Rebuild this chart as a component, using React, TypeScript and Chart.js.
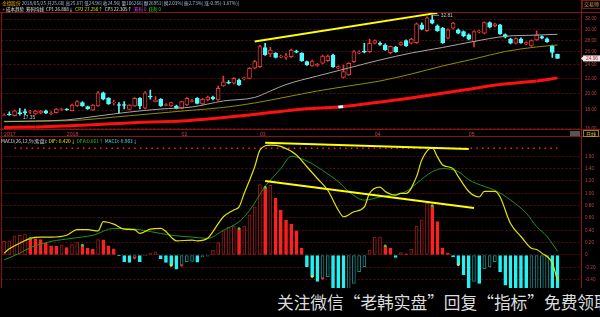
import React, { useEffect, useRef } from 'react';
import { Chart, registerables } from 'chart.js';

Chart.register(...registerables);

// ---------- categories ----------
const tradingDays: [string, number[]][] = [
  ['2017-12', [14, 15, 18, 19, 20, 21, 22, 25, 26, 27, 28, 29]],
  ['2018-01', [2, 3, 4, 5, 8, 9, 10, 11, 12, 15, 16, 17, 18, 19, 22, 23, 24, 25, 26, 29, 30, 31]],
  ['2018-02', [1, 2, 5, 6, 7, 8, 9, 12, 13, 14, 22, 23, 26, 27, 28]],
  ['2018-03', [1, 2, 5, 6, 7, 8, 9, 12, 13, 14, 15, 16, 19, 20, 21, 22, 23, 26, 27, 28, 29, 30]],
  ['2018-04', [2, 3, 4, 9, 10, 11, 12, 13, 16, 17, 18, 19, 20, 23, 24, 25, 26, 27]],
  ['2018-05', [2, 3, 4, 7, 8, 9, 10, 11, 14, 15, 16, 17, 18, 21, 22, 23, 24, 25]],
];
const monthTickText = ['2017', '2018', '02', '03', '04', '05'];
const blankSlots = 4;

// ---------- price (OHLC) ----------
const open = [
  17.40, 17.55, 17.38, 17.72, 17.84, 17.78, 17.56, 17.67, 17.93, 17.61,
  17.70, 18.09, 18.12, 17.93, 18.47, 18.87, 18.39, 18.01, 18.47, 20.09,
  19.39, 18.87, 18.65, 18.65, 18.09, 18.47, 19.39, 18.21, 19.68, 18.99,
  19.28, 18.53, 18.47, 18.47, 18.20, 18.59, 19.01, 19.39, 18.71, 19.19,
  19.55, 19.19, 20.97, 21.47, 21.33, 21.78, 21.94, 22.01, 23.46, 23.70,
  26.72, 25.67, 25.78, 25.16, 25.16, 25.24, 26.13, 25.78, 24.46, 23.80,
  23.87, 24.21, 24.61, 25.51, 23.46, 22.15, 22.47, 24.46, 25.80, 26.13,
  26.05, 27.48, 27.45, 27.18, 25.89, 26.78, 27.18, 27.94, 27.48, 27.59,
  30.86, 29.77, 31.86, 30.67, 30.22, 28.36, 30.22, 29.90, 29.58, 28.97,
  27.76, 29.48, 29.28, 31.32, 30.67, 30.86, 29.02, 28.19, 27.48, 28.19,
  27.31, 27.01, 28.06, 28.66, 28.24, 27.01, 25.60,
];
const high = [
  17.58, 17.80, 18.01, 18.18, 18.12, 17.96, 17.96, 17.96, 18.01, 17.84,
  18.18, 18.24, 18.18, 18.71, 19.13, 19.01, 18.47, 18.65, 20.25, 20.18,
  19.49, 19.19, 18.89, 19.01, 18.65, 19.49, 19.49, 20.25, 20.44, 19.62,
  19.37, 18.77, 18.95, 18.59, 19.07, 19.49, 19.25, 19.49, 19.37, 19.68,
  19.68, 20.97, 22.33, 21.71, 22.12, 21.92, 22.19, 23.57, 24.65, 27.10,
  27.48, 26.78, 25.92, 25.51, 25.78, 26.50, 26.33, 25.92, 24.56, 24.72,
  24.18, 25.51, 25.51, 25.67, 23.80, 23.95, 24.33, 26.25, 26.17, 27.48,
  28.19, 28.06, 27.71, 27.36, 27.01, 26.93, 27.71, 28.06, 28.33, 31.26,
  31.26, 32.47, 32.81, 30.86, 30.38, 30.09, 31.36, 30.09, 29.71, 29.15,
  29.71, 29.81, 31.46, 31.46, 31.16, 30.96, 29.15, 28.33, 28.42, 28.42,
  27.71, 28.06, 29.71, 28.78, 28.42, 27.18, 25.67,
];
const low = [
  17.38, 17.40, 17.35, 17.42, 17.45, 17.61, 17.50, 17.61, 17.61, 17.45,
  17.67, 17.96, 17.96, 17.90, 18.42, 18.42, 18.07, 17.96, 18.42, 19.19,
  18.65, 18.59, 17.67, 18.12, 18.01, 18.42, 18.12, 18.12, 19.28, 18.95,
  18.42, 18.47, 18.42, 18.12, 18.12, 18.53, 18.95, 18.73, 18.65, 19.07,
  19.19, 19.13, 20.90, 21.23, 21.23, 21.04, 21.78, 21.92, 23.35, 23.57,
  25.43, 25.24, 25.03, 25.03, 24.82, 25.14, 25.83, 24.49, 23.87, 23.72,
  23.72, 24.10, 24.49, 23.57, 23.35, 22.05, 22.40, 24.33, 25.67, 25.83,
  25.92, 27.36, 27.10, 26.25, 25.67, 25.92, 27.10, 26.93, 27.36, 27.45,
  29.90, 29.62, 31.06, 29.62, 27.45, 28.24, 30.09, 29.15, 28.60, 28.06,
  26.84, 29.33, 29.15, 30.28, 30.48, 29.06, 28.42, 27.36, 27.36, 27.45,
  27.18, 26.93, 27.97, 28.24, 27.62, 25.14, 24.96,
];
const close = [
  17.48, 17.46, 17.93, 17.61, 17.72, 17.84, 17.90, 17.90, 17.64, 17.67,
  18.12, 18.15, 18.01, 18.59, 18.99, 18.47, 18.12, 18.59, 20.09, 19.28,
  18.71, 18.95, 18.53, 18.53, 18.59, 19.39, 18.47, 20.09, 19.55, 19.19,
  18.47, 18.65, 18.87, 18.20, 18.99, 19.39, 19.13, 18.79, 19.28, 19.55,
  19.31, 20.66, 21.54, 21.34, 22.01, 21.10, 22.08, 23.46, 24.46, 26.89,
  25.51, 26.33, 25.14, 25.32, 25.32, 26.33, 25.97, 24.61, 23.95, 24.56,
  24.03, 25.35, 25.35, 23.70, 23.70, 22.95, 24.21, 26.05, 25.97, 25.97,
  27.48, 27.94, 27.27, 26.33, 26.96, 26.05, 27.59, 27.01, 28.19, 31.06,
  30.03, 32.27, 31.20, 29.77, 27.59, 29.90, 31.20, 29.28, 28.78, 28.19,
  29.58, 29.67, 31.32, 30.42, 31.06, 29.15, 28.54, 27.48, 28.30, 27.59,
  27.59, 27.94, 28.97, 28.36, 27.76, 25.91, 24.96,
];

// moving-average lines read at sample bars: [bar index, value]
const maGray: [number, number][] = [
  [0, 16.72], [6, 16.79], [12, 16.91], [18, 17.34], [24, 17.78], [30, 18.12], [36, 18.36],
  [42, 19.07], [48, 19.5], [51, 20.31], [54, 21.16], [57, 21.78], [60, 22.33], [66, 23.5],
  [72, 24.72], [78, 25.83], [84, 26.75], [90, 27.8], [96, 28.71], [102, 28.93], [106, 29.08],
];
const maOlive: [number, number][] = [
  [0, 16.77], [12, 16.83], [24, 17.37], [36, 17.99], [42, 18.3], [48, 18.83], [54, 19.55],
  [60, 20.31], [66, 20.97], [72, 21.64], [78, 22.62], [84, 23.8], [90, 24.88], [96, 26.08],
  [102, 26.84], [106, 27.18],
];
const maRed: [number, number][] = [
  [0, 16.12], [6, 16.18], [9, 16.22], [18, 16.43], [28, 16.69], [32, 16.74], [34, 16.79],
  [47, 17.45], [56, 18.05], [64, 18.36], [65, 18.41], [75, 19.19], [88, 20.44], [95, 21.17],
  [101, 21.57], [102, 21.63], [106, 22.07],
];
const maRedWhiteFrom = [6, 32, 64, 95, 102];
const priceTrend: [number, number][] = [[48, 27.77], [83, 33.3]];
const priceTicks = [16, 18, 20, 22, 24, 26, 28, 30, 32];

// ---------- MACD ----------
const macdHist = [
  0.22, 0.23, 0.31, 0.32, 0.33, 0.27, 0.265, 0.25, 0.19, 0.15,
  0.145, 0.16, 0.12, 0.17, 0.21, 0.16, 0.11, 0.09, 0.25, 0.245,
  0.15, 0.10, -0.01, -0.11, -0.12, -0.05, -0.11, -0.005, 0.03, 0.05,
  -0.06, -0.12, -0.17, -0.23, -0.17, -0.11, -0.105, -0.115, -0.03, -0.02,
  0.08, 0.20, 0.39, 0.45, 0.47, 0.43, 0.47, 0.65, 0.78, 1.14,
  1.10, 1.13, 0.92, 0.73, 0.56, 0.50, 0.39, 0.11, -0.19, -0.35,
  -0.43, -0.38, -0.35, -0.55, -0.60, -0.62, -0.56, -0.46, -0.27, -0.19,
  0.08, 0.29, 0.295, 0.15, 0.11, -0.04, 0.04, 0.02, 0.09, 0.47,
  0.57, 0.84, 0.80, 0.54, 0.11, 0.03, -0.03, -0.16, -0.32, -0.55,
  -0.43, -0.46, -0.22, -0.19, -0.11, -0.27, -0.49, -0.62, -0.72, -0.80,
  -0.85, -0.83, -0.78, -0.74, -0.72, -0.84, -0.963,
];
const difLine: [number, number][] = [
  [0, 0.03], [1, 0.10], [3, 0.19], [5, 0.27], [7, 0.29], [9, 0.29], [12, 0.32], [14, 0.41],
  [16, 0.41], [18, 0.39], [19, 0.54], [21, 0.50], [23, 0.42], [25, 0.41], [26, 0.35], [28, 0.42],
  [30, 0.43], [31, 0.38], [32, 0.29], [33, 0.23], [36, 0.24], [37, 0.23], [39, 0.27], [40, 0.38],
  [42, 0.62], [44, 0.73], [45, 0.78], [46, 1.0], [48, 1.43], [49, 1.70], [51, 1.78], [53, 1.76],
  [56, 1.62], [58, 1.43], [60, 1.24], [62, 1.05], [64, 0.73], [65, 0.62], [67, 0.70], [69, 0.78],
  [70, 1.0], [72, 1.10], [73, 1.03], [75, 0.97], [76, 1.0], [77, 1.0], [79, 1.27], [80, 1.54],
  [82, 1.74], [83, 1.59], [84, 1.46], [86, 1.40], [87, 1.27], [89, 1.03], [91, 0.94], [92, 1.03],
  [94, 1.03], [95, 0.94], [97, 0.51], [99, 0.30], [101, 0.11], [102, 0.09], [103, 0.03],
  [105, -0.13], [106, -0.42],
];
const deaLine: [number, number][] = [
  [0, -0.08], [3, 0.03], [5, 0.12], [9, 0.22], [13, 0.27], [17, 0.32], [21, 0.43], [25, 0.42],
  [28, 0.38], [32, 0.32], [36, 0.29], [39, 0.27], [42, 0.40], [45, 0.54], [47, 0.72], [50, 1.11],
  [53, 1.40], [55, 1.60], [57, 1.56], [59, 1.48], [61, 1.37], [64, 1.19], [66, 1.03], [69, 0.89],
  [72, 0.94], [74, 0.97], [77, 1.03], [79, 1.16], [82, 1.35], [84, 1.40], [87, 1.35], [89, 1.22],
  [92, 1.11], [94, 1.05], [97, 0.89], [100, 0.68], [102, 0.46], [104, 0.30], [106, 0.061],
];
const macdTrendTop: [number, number][] = [[50, 1.82], [89, 1.72]];
const macdTrendMid: [number, number][] = [[50, 1.20], [90, 0.76]];
const dotRow: [number, number][] = [[2, 1.73], [106, 1.73]];
const macdTicks = [1.6, 1.4, 1.2, 1.0, 0.8, 0.6, 0.4, 0.2, 0, -0.2, -0.4];
const greenMarks = [5, 15, 45, 50, 73, 82];
const yellowMarks = [32, 59, 87];
const redMarks = [25, 34, 61];

// ---------- texts ----------
const headerLine1: [string, string][] = [
  ['金德股份', '#f0a800'],
  [' 2018/05/25 开25.60| 高25.67| 低24.96| 收24.96| 量106266| 额26951| 换2.03%| 振2.73%| 涨-0.95(-3.67%)|', '#a4bedc'],
];
const headerLine2: [string, string][] = [
  ['✦ ', '#ff3030'],
  ['成本趋势  筹码均线  CP1 26.888↓  ', '#e6e6e6'],
  ['CP2 27.258↑  ', '#e6e600'],
  ['CP3 22.305↑  ', '#e6e6e6'],
  ['筹码 0  ', '#e040e0'],
  ['获利 0', '#30d030'],
];
const macdHeader: [string, string][] = [
  ['MACD(26,12,9)(紫盘): ', '#d8d8d8'],
  ['DIF:-0.420↓ ', '#e8e800'],
  ['DEA:0.061↑ ', '#30c030'],
  ['MACD:-0.963↓', '#40e8e8'],
];
const cornerTag = '交易师';
const periodTag = '日线';
const watermark = '关注微信“老韩实盘”回复“指标”免费领取';

// ---------- derived ----------
const dates = tradingDays.flatMap(([m, days]) => days.map((d) => `${m}-${String(d).padStart(2, '0')}`));
const N = dates.length;
const labels = [...dates, ...Array(blankSlots).fill('')];
const SLOTS = labels.length;
const monthStart = tradingDays.reduce<number[]>((acc, _m, k) => {
  acc.push(k === 0 ? 0 : acc[k - 1] + tradingDays[k - 1][1].length);
  return acc;
}, []);
const monthLabelAt = new Map(monthStart.map((idx, k) => [idx, monthTickText[k]]));

const sparse = (pts: [number, number][]) => {
  const arr: (number | null)[] = Array(SLOTS).fill(null);
  pts.forEach(([i, v]) => { arr[i] = v; });
  return arr;
};
const atIdx = (idxs: number[], vals: number[]) => {
  const arr: (number | null)[] = Array(SLOTS).fill(null);
  idxs.forEach((i) => { arr[i] = vals[i]; });
  return arr;
};

const UP = '#e83838';
const DOWN = '#54fcfc';
const GRID = '#5e0c0c';
const FRAME = '#8a1414';
const AXIS_TEXT = '#c84040';
const FONT = '"Noto Sans CJK SC", "Liberation Sans", sans-serif';
const NUM_FONT = '"Liberation Sans", Arial, sans-serif';
const AXIS_W = 19;
const PAD_L = 1.5;

function drawRuns(ctx: CanvasRenderingContext2D, runs: [string, string][], x: number, y: number, width: number) {
  ctx.font = `10px ${FONT}`;
  const total = runs.reduce((s, [t]) => s + ctx.measureText(t).width, 0);
  const size = (10 * width) / total;
  ctx.font = `${size}px ${FONT}`;
  ctx.textBaseline = 'middle';
  ctx.textAlign = 'left';
  let cx = x;
  for (const [t, c] of runs) {
    ctx.fillStyle = c;
    ctx.fillText(t, cx, y);
    cx += ctx.measureText(t).width;
  }
}

function line(ctx: CanvasRenderingContext2D, x1: number, y1: number, x2: number, y2: number) {
  ctx.beginPath();
  ctx.moveTo(x1, y1);
  ctx.lineTo(x2, y2);
  ctx.stroke();
}

const topDecor = {
  id: 'topDecor',
  afterDraw(chart: any) {
    const { ctx, chartArea: a } = chart;
    const xs = chart.scales.x;
    const ys = chart.scales.y;
    ctx.save();
    ctx.strokeStyle = FRAME;
    ctx.lineWidth = 1;
    line(ctx, 0, 12.5, 600, 12.5);
    line(ctx, 0, 129.5, 600, 129.5);
    line(ctx, 0, 136.5, 600, 136.5);
    line(ctx, 1.5, 12, 1.5, 137);
    line(ctx, a.right + 0.5, 0, a.right + 0.5, 137);

    drawRuns(ctx, headerLine1, 2, 3.6, 238);
    drawRuns(ctx, headerLine2, 2, 9.2, 160);

    // extreme labels
    const hiVal = Math.max(...high);
    const hiIdx = high.indexOf(hiVal);
    const loVal = Math.min(...low);
    const loIdx = low.indexOf(loVal);
    ctx.font = `4.8px ${NUM_FONT}`;
    ctx.fillStyle = '#c8c8c8';
    ctx.textBaseline = 'middle';
    ctx.textAlign = 'left';
    const hx = xs.getPixelForValue(hiIdx);
    const hy = ys.getPixelForValue(hiVal);
    ctx.strokeStyle = '#a0a0a0';
    line(ctx, hx + 1, hy, hx + 7, hy);
    ctx.fillText(hiVal.toFixed(2), hx + 8.5, hy + 0.5);
    const lx = xs.getPixelForValue(loIdx);
    const ly = ys.getPixelForValue(loVal);
    ctx.fillText(loVal.toFixed(2), lx + 8.5, ly + 1.5);

    // last price tag
    const last = close[N - 1];
    const py = ys.getPixelForValue(last);
    ctx.fillStyle = '#e8e8e8';
    ctx.fillRect(a.right + 2, py - 3, 18, 6);
    ctx.beginPath();
    ctx.moveTo(a.right + 0, py);
    ctx.lineTo(a.right + 2.5, py - 2.5);
    ctx.lineTo(a.right + 2.5, py + 2.5);
    ctx.closePath();
    ctx.fill();
    ctx.fillStyle = '#d82020';
    ctx.font = `4.8px ${NUM_FONT}`;
    ctx.fillText(last.toFixed(2), a.right + 5, py + 0.3);

    // corner tag
    ctx.strokeStyle = '#7a1a1a';
    ctx.strokeRect(a.right + 1.5, 0.5, 18, 8);
    ctx.fillStyle = '#e0a040';
    ctx.font = `5px ${FONT}`;
    ctx.fillText(cornerTag, a.right + 3, 4.5);

    // period tag in the date band
    ctx.fillStyle = '#555555';
    ctx.fillRect(570, 131, 10, 5);
    ctx.strokeStyle = '#9a7a20';
    ctx.strokeRect(a.right + 2.5, 130.5, 15, 6);
    ctx.fillStyle = '#e8c040';
    ctx.fillText(periodTag, a.right + 5, 133.7);
    ctx.restore();
  },
};

const macdDecor = {
  id: 'macdDecor',
  afterDraw(chart: any) {
    const { ctx, chartArea: a } = chart;
    ctx.save();
    ctx.strokeStyle = FRAME;
    ctx.lineWidth = 1;
    line(ctx, 1.5, 0, 1.5, 152);
    line(ctx, a.right + 0.5, 0, a.right + 0.5, 153);
    drawRuns(ctx, macdHeader, 1, 4.3, 137);
    ctx.restore();
  },
};

const yAxisCommon = {
  position: 'right' as const,
  grid: { color: GRID, lineWidth: 1, drawTicks: false },
  border: { display: false, dash: [2, 2] },
  afterFit: (s: any) => {
    s.width = AXIS_W;
    s.paddingTop = 0;
    s.paddingBottom = 0;
  },
};

function buildTop(canvas: HTMLCanvasElement) {
  const up = close.map((c, i) => c >= open[i]);
  const wicks = [...low.map((l, i) => [l, high[i]]), ...Array(blankSlots).fill(null)];
  const bodies = [...open.map((o, i) => [o, close[i]]), ...Array(blankSlots).fill(null)];
  return new Chart(canvas, {
    type: 'bar',
    data: {
      labels,
      datasets: [
        {
          type: 'bar', label: 'wick', data: wicks as any, grouped: false, barThickness: 1, order: 9,
          backgroundColor: up.map((u) => (u ? UP : DOWN)), borderWidth: 0,
        },
        {
          type: 'bar', label: 'body', data: bodies as any, grouped: false, barThickness: 4, order: 8,
          backgroundColor: up.map((u) => (u ? '#000000' : DOWN)),
          borderColor: up.map((u) => (u ? UP : DOWN)), borderWidth: 1, borderSkipped: false,
        },
        {
          type: 'line', label: 'MA long', data: sparse(maRed), spanGaps: true, pointRadius: 0, borderWidth: 3,
          borderColor: '#ff1010', tension: 0.3, cubicInterpolationMode: 'monotone', order: 7,
          segment: { borderColor: (c: any) => (maRedWhiteFrom.includes(c.p0DataIndex) ? '#f2f2f2' : '#ff1010') },
        },
        {
          type: 'line', label: 'MA mid', data: sparse(maOlive), spanGaps: true, pointRadius: 0, borderWidth: 1,
          borderColor: '#8e8e00', cubicInterpolationMode: 'monotone', order: 6,
        },
        {
          type: 'line', label: 'MA short', data: sparse(maGray), spanGaps: true, pointRadius: 0, borderWidth: 1,
          borderColor: '#a6a6a6', cubicInterpolationMode: 'monotone', order: 5,
        },
        {
          type: 'line', label: 'trend', data: sparse(priceTrend), spanGaps: true, pointRadius: 0, borderWidth: 2,
          borderColor: '#ffff00', order: 1,
        },
      ] as any,
    },
    options: {
      responsive: false,
      animation: false,
      devicePixelRatio: 1,
      events: [],
      layout: { padding: { left: PAD_L, top: 12.5, right: 0, bottom: 0 }, autoPadding: false } as any,
      plugins: { legend: { display: false }, tooltip: { enabled: false } },
      scales: {
        x: {
          type: 'category',
          offset: true,
          grid: { display: false, drawTicks: false },
          border: { display: false },
          ticks: {
            autoSkip: false, maxRotation: 0, minRotation: 0, align: 'start', padding: 2.2,
            color: AXIS_TEXT, font: { size: 5.2, family: NUM_FONT },
            callback: (_v: any, i: number) => monthLabelAt.get(i) ?? '',
          },
          afterFit: (s: any) => { s.height = 8; s.paddingLeft = 0; s.paddingRight = 0; },
        },
        y: {
          ...yAxisCommon,
          type: 'logarithmic',
          min: 15.97,
          max: 33.38,
          ticks: {
            color: AXIS_TEXT, font: { size: 4.6, family: NUM_FONT }, padding: 4,
            callback: (v: any) => Number(v).toFixed(2),
          },
          afterBuildTicks: (s: any) => { s.ticks = priceTicks.map((value) => ({ value })); },
        },
      } as any,
    },
    plugins: [topDecor],
  });
}

function buildMacd(canvas: HTMLCanvasElement) {
  const fills = macdHist.map((v, i) => {
    const prev = i === 0 ? v - 1e-6 : macdHist[i - 1];
    if (v >= 0) return v > prev ? '#000000' : '#ff2020';
    return v < prev ? '#20f4f4' : '#000000';
  });
  const strokes = macdHist.map((v, i) => {
    const prev = i === 0 ? v - 1e-6 : macdHist[i - 1];
    if (v >= 0) return v > prev ? '#9c1c1c' : '#ff2020';
    return v < prev ? '#20f4f4' : '#1a8a8a';
  });
  const marker = (idxs: number[], color: string) => ({
    type: 'line', data: atIdx(idxs, macdHist), showLine: false, pointRadius: 1.3, pointBorderWidth: 0,
    pointBackgroundColor: color, order: 0,
  });
  return new Chart(canvas, {
    type: 'bar',
    data: {
      labels,
      datasets: [
        {
          type: 'bar', label: 'MACD', data: [...macdHist, ...Array(blankSlots).fill(null)], grouped: false,
          barThickness: 3, backgroundColor: fills, borderColor: strokes, borderWidth: 1, borderSkipped: false, order: 9,
        },
        {
          type: 'line', label: 'dots', data: sparse(dotRow), spanGaps: true, pointRadius: 0, borderWidth: 1.5,
          borderColor: '#ff2020', borderDash: [1.5, 4.2], order: 6,
        },
        {
          type: 'line', label: 'DEA', data: sparse(deaLine), spanGaps: true, pointRadius: 0, borderWidth: 1,
          borderColor: '#1c961c', cubicInterpolationMode: 'monotone', order: 5,
        },
        {
          type: 'line', label: 'DIF', data: sparse(difLine), spanGaps: true, pointRadius: 0, borderWidth: 1.2,
          borderColor: '#e4e400', cubicInterpolationMode: 'monotone', order: 4,
        },
        {
          type: 'line', label: 'trend top', data: sparse(macdTrendTop), spanGaps: true, pointRadius: 0,
          borderWidth: 2, borderColor: '#ffff00', order: 1,
        },
        {
          type: 'line', label: 'trend mid', data: sparse(macdTrendMid), spanGaps: true, pointRadius: 0,
          borderWidth: 2, borderColor: '#ffff00', order: 1,
        },
        marker(greenMarks, '#30e030'),
        marker(yellowMarks, '#f0e020'),
        marker(redMarks, '#ff2020'),
      ] as any,
    },
    options: {
      responsive: false,
      animation: false,
      devicePixelRatio: 1,
      events: [],
      layout: { padding: { left: PAD_L, top: 0, right: 0, bottom: 0 }, autoPadding: false } as any,
      plugins: { legend: { display: false }, tooltip: { enabled: false } },
      scales: {
        x: { type: 'category', offset: true, display: false },
        y: {
          ...yAxisCommon,
          type: 'linear',
          min: -1.0049,
          max: 1.9125,
          ticks: {
            color: AXIS_TEXT, font: { size: 4.6, family: NUM_FONT }, padding: 4,
            callback: (v: any) => (Number(v) === 0 ? '0' : Number(v).toFixed(2)),
          },
          afterBuildTicks: (s: any) => { s.ticks = macdTicks.map((value) => ({ value })); },
        },
      } as any,
    },
    plugins: [macdDecor],
  });
}

export default function App() {
  const topRef = useRef<HTMLCanvasElement>(null);
  const macdRef = useRef<HTMLCanvasElement>(null);

  useEffect(() => {
    document.body.style.margin = '0';
    document.body.style.background = '#000';
    const top = buildTop(topRef.current as HTMLCanvasElement);
    const macd = buildMacd(macdRef.current as HTMLCanvasElement);
    return () => {
      top.destroy();
      macd.destroy();
    };
  }, []);

  return (
    <div style={{ position: 'relative', width: 600, height: 317, background: '#000', overflow: 'hidden' }}>
      <canvas ref={topRef} width={600} height={137}
        style={{ position: 'absolute', left: 0, top: 0, width: 600, height: 137 }} />
      <canvas ref={macdRef} width={600} height={180}
        style={{ position: 'absolute', left: 0, top: 137, width: 600, height: 180 }} />
      <div style={{ position: 'absolute', left: 0, top: 288, width: 600, height: 29, background: '#000', overflow: 'hidden' }}>
        <span style={{
          position: 'absolute', left: 277, top: 0, lineHeight: '29px', fontSize: 16.7,
          fontFamily: '"Noto Sans CJK SC", sans-serif', color: '#dcdcdc', whiteSpace: 'nowrap',
        }}>{watermark}</span>
      </div>
    </div>
  );
}
